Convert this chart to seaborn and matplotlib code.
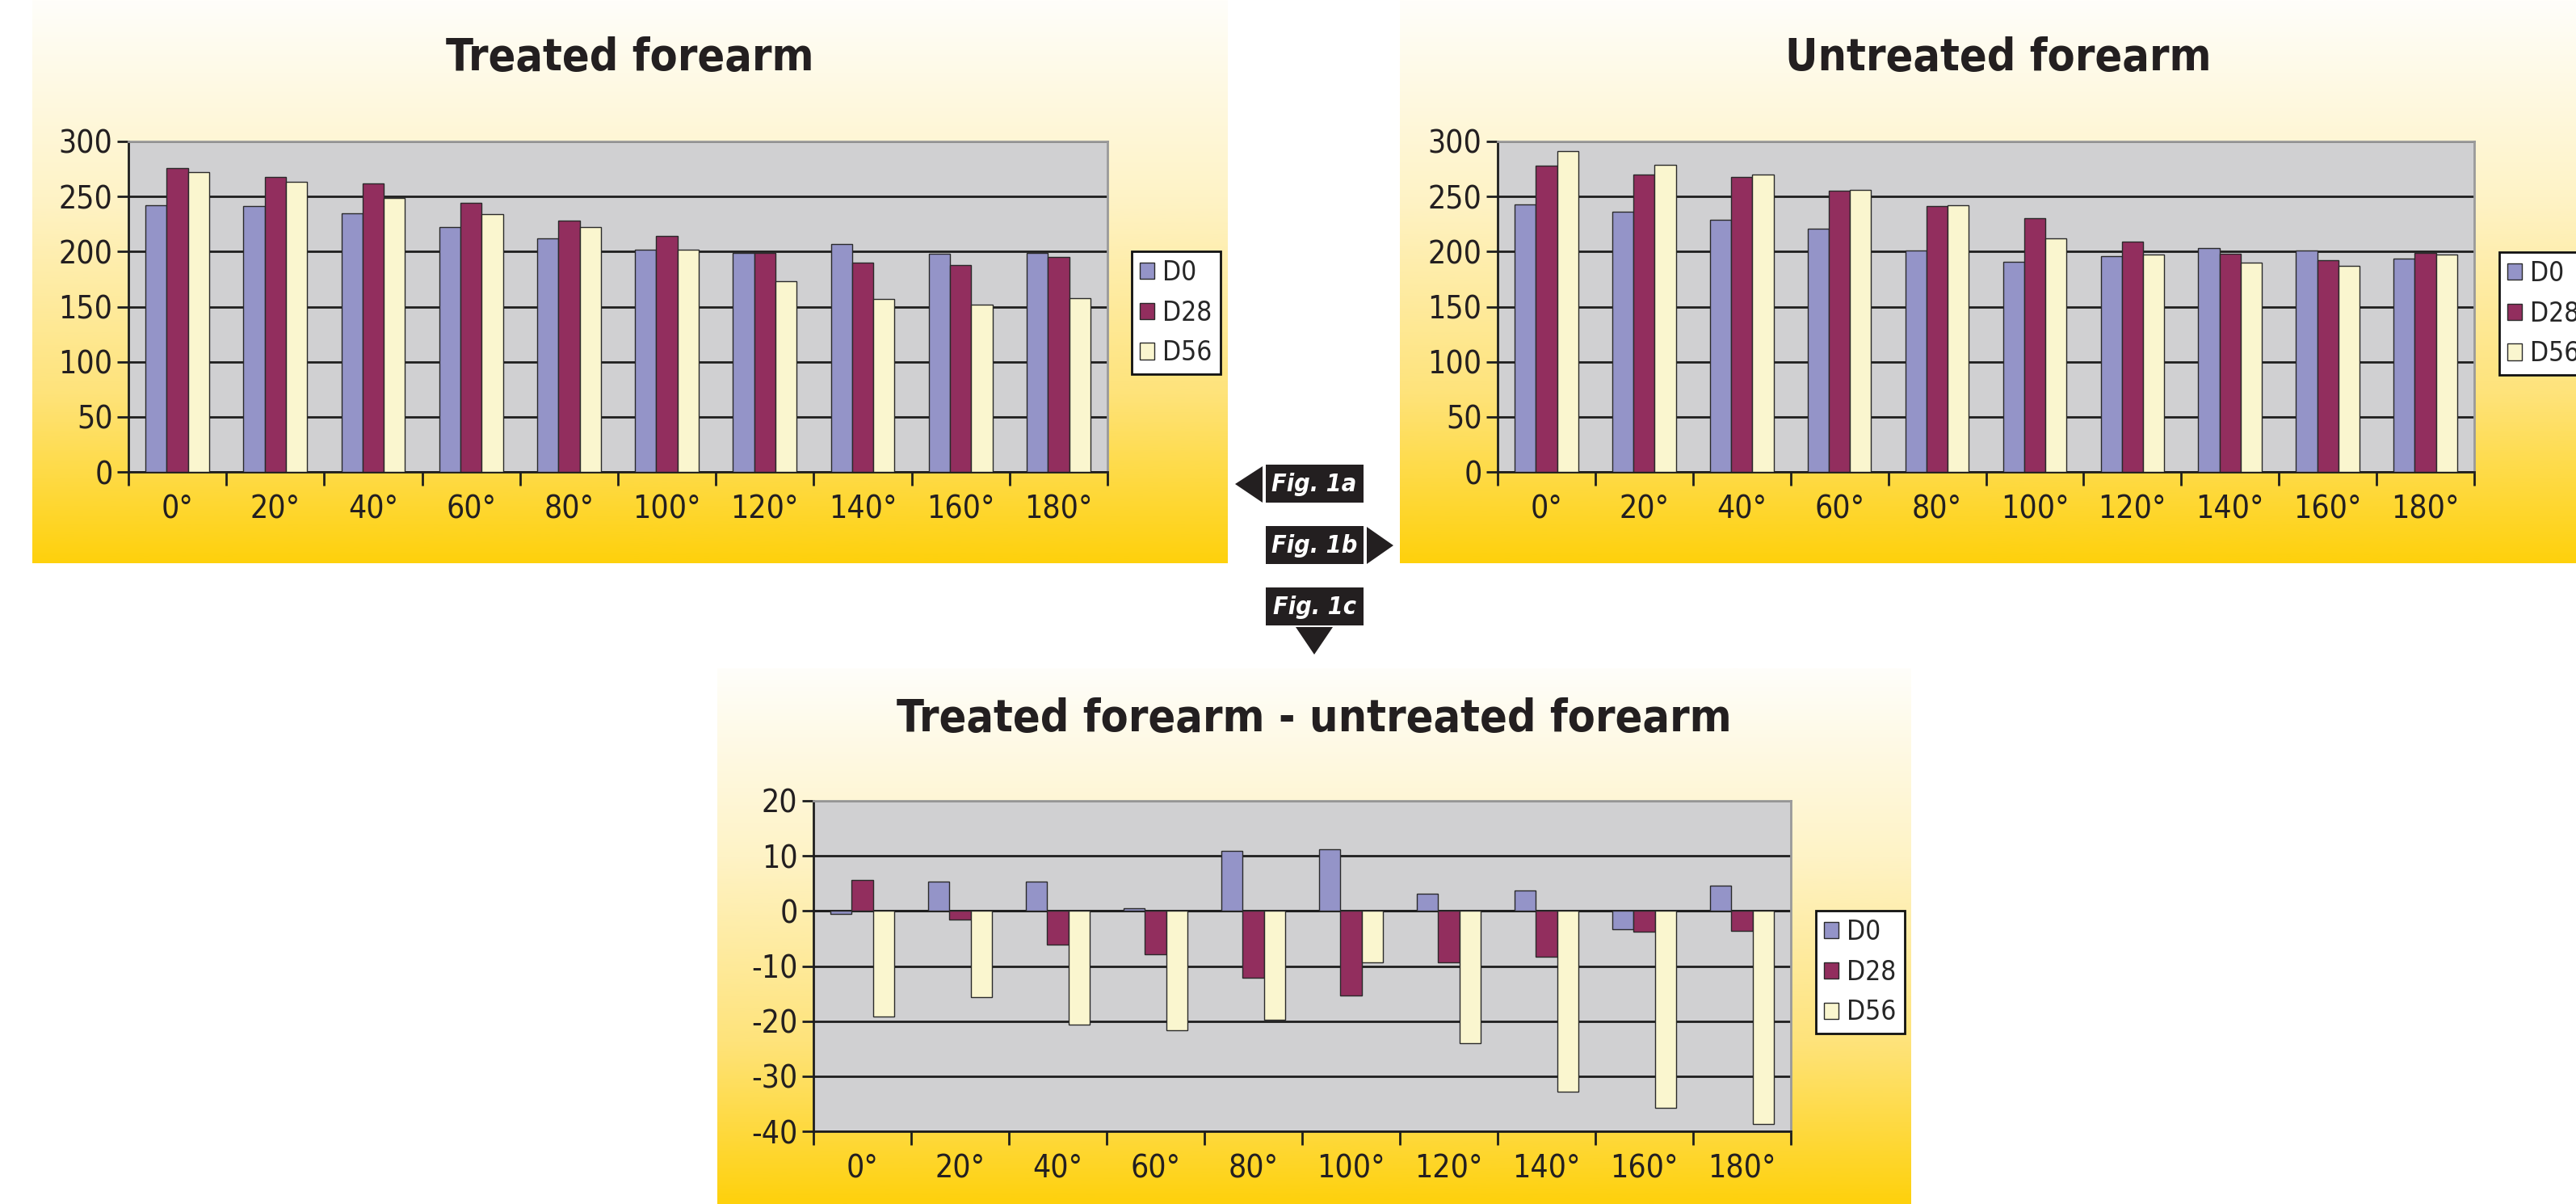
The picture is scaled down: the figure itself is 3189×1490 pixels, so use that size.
import numpy as np
import pandas as pd
import matplotlib
matplotlib.use("Agg")
import matplotlib.pyplot as plt
import seaborn as sns
from matplotlib import font_manager
from matplotlib.colors import LinearSegmentedColormap
from matplotlib.patches import Rectangle, Polygon

# ---------------- data ----------------
angles = ["0°", "20°", "40°", "60°", "80°", "100°", "120°", "140°", "160°", "180°"]
series = ["D0", "D28", "D56"]

treated_d0 = [242, 241, 235, 222, 212, 202, 199, 207, 198, 199]
treated_d28 = [276, 268, 262, 244, 228, 214, 199, 190, 188, 195]
treated_d56 = [272, 263, 249, 234, 222, 202, 173, 157, 152, 158]

untreated_d0 = [243, 236, 229, 221, 201, 191, 196, 203, 201, 194]
untreated_d28 = [278, 270, 268, 255, 241, 230, 209, 198, 192, 199]
untreated_d56 = [291, 279, 270, 256, 242, 212, 197, 190, 187, 197]

diff_d0 = [-0.5, 5.4, 5.4, 0.5, 10.9, 11.2, 3.1, 3.7, -3.3, 4.6]
diff_d28 = [5.6, -1.5, -6.1, -7.9, -12.2, -15.4, -9.3, -8.3, -3.7, -3.6]
diff_d56 = [-19.1, -15.6, -20.6, -21.7, -19.8, -9.3, -24.0, -32.8, -35.7, -38.7]

titles = ["Treated forearm", "Untreated forearm", "Treated forearm - untreated forearm"]
fig_labels = ["Fig. 1a", "Fig. 1b", "Fig. 1c"]

colors = ["#9494C8", "#922E5E", "#FAF6CF"]

# ---------------- fonts ----------------
sns.set_theme(style="white")
available = {f.name for f in font_manager.fontManager.ttflist}
if "Liberation Sans Narrow" in available:
    FAM = ["Liberation Sans Narrow", "DejaVu Sans"]
    STRETCH = "normal"
else:
    FAM = ["DejaVu Sans"]
    STRETCH = "condensed"
plt.rcParams["font.family"] = FAM
plt.rcParams["font.stretch"] = STRETCH
TXT = "#231F20"

W, H = 3189, 1490
DPI = 100
fig = plt.figure(figsize=(W / DPI, H / DPI), dpi=DPI)
fig.patch.set_facecolor("white")

grad_cmap = LinearSegmentedColormap.from_list(
    "g", [(0.0, "#FFFEFA"), (0.35, "#FEF3C6"), (0.7, "#FEE37A"), (1.0, "#FED10C")])


def fig_rect(x0, y0, x1, y1):
    return [x0 / W, 1 - y1 / H, (x1 - x0) / W, (y1 - y0) / H]


def background(x0, y0, x1, y1):
    bg = fig.add_axes(fig_rect(x0, y0, x1, y1), zorder=0)
    grad = np.linspace(0, 1, 256).reshape(-1, 1)
    bg.imshow(grad, aspect="auto", cmap=grad_cmap, extent=[0, 1, 0, 1], origin="upper")
    bg.axis("off")


def panel(rect, d0, d28, d56, ylim, yticks, title, title_xy, leg_xy):
    df = pd.DataFrame({
        "angle": angles * 3,
        "series": [s for s in series for _ in angles],
        "value": list(d0) + list(d28) + list(d56),
    })
    ax = fig.add_axes(fig_rect(*rect), zorder=2)
    ax.set_facecolor("#D0D0D2")
    sns.barplot(data=df, x="angle", y="value", hue="series", order=angles,
                hue_order=series, palette=colors, width=0.65, ax=ax,
                edgecolor="#2A2A2A", linewidth=1.0, saturation=1, errorbar=None,
                zorder=3)
    ax.set_xlim(-0.5, len(angles) - 0.5)
    ax.set_ylim(*ylim)
    ax.set_yticks(yticks)
    ax.set_yticklabels([f"{v:g}" for v in yticks], fontsize=28, color=TXT)
    ax.yaxis.grid(True, color="#1E1E1E", linewidth=2.0, zorder=1)
    ax.xaxis.grid(False)
    ax.set_axisbelow(True)
    # ticks at category boundaries, labels at centres
    ax.set_xticks(np.arange(-0.5, len(angles)), labels=[""] * (len(angles) + 1))
    ax.set_xticks(np.arange(len(angles)), labels=angles, minor=True)
    ax.tick_params(axis="x", which="major", direction="out", length=12, width=2,
                   color="#1E1E1E", bottom=True)
    ax.tick_params(axis="x", which="minor", length=0, labelsize=28, labelcolor=TXT, pad=20)
    ax.tick_params(axis="y", direction="out", length=10, width=2, color="#1E1E1E", left=True,
                   pad=4)
    ax.set_xlabel("")
    ax.set_ylabel("")
    for s in ("left", "bottom"):
        ax.spines[s].set_color("#1E1E1E")
        ax.spines[s].set_linewidth(2.0)
    for s in ("top", "right"):
        ax.spines[s].set_color("#9A9A9A")
        ax.spines[s].set_linewidth(2.0)
    if ylim[0] < 0:
        ax.axhline(0, color="#1E1E1E", linewidth=2.2, zorder=2)
    handles, labels = ax.get_legend_handles_labels()
    ax.legend(handles, labels, loc="upper left", bbox_to_anchor=(leg_xy[0] / W, 1 - leg_xy[1] / H),
              bbox_transform=fig.transFigure, fontsize=24, frameon=True, fancybox=False,
              edgecolor="#111111", facecolor="white", framealpha=1, handlelength=0.55,
              handleheight=0.55, handletextpad=0.3, labelspacing=0.5, borderpad=0.3,
              borderaxespad=0)
    ax.get_legend().get_frame().set_linewidth(2.0)
    fig.text(title_xy[0] / W, 1 - title_xy[1] / H, title, ha="center", va="center",
             fontsize=40, fontweight="bold", color=TXT, zorder=5)
    return ax


background(40, 0, 1520, 697)
background(1733, 0, W, 697)
background(888, 827, 2366, H)

panel((159, 175, 1371, 584), treated_d0, treated_d28, treated_d56, (0, 300),
      [0, 50, 100, 150, 200, 250, 300], titles[0], (780, 72), (1401, 311))
panel((1854, 175, 3063, 584), untreated_d0, untreated_d28, untreated_d56, (0, 300),
      [0, 50, 100, 150, 200, 250, 300], titles[1], (2474, 72), (3094, 312))
panel((1007, 991, 2217, 1400), diff_d0, diff_d28, diff_d56, (-40, 20),
      [-40, -30, -20, -10, 0, 10, 20], titles[2], (1627, 890), (2248, 1127))

# ---------------- figure labels overlay ----------------
ov = fig.add_axes([0, 0, 1, 1], zorder=10)
ov.set_xlim(0, W)
ov.set_ylim(H, 0)
ov.axis("off")
ov.patch.set_alpha(0)
box_y = [575, 651, 727]
tris = [
    [(1529, 599), (1563, 577), (1563, 622)],
    [(1692, 652), (1692, 698), (1725, 675)],
    [(1604, 776), (1650, 776), (1627, 810)],
]
for lab, y0, tri in zip(fig_labels, box_y, tris):
    ov.add_patch(Rectangle((1567, y0), 121, 47, facecolor=TXT, edgecolor="none"))
    ov.add_patch(Polygon(tri, closed=True, facecolor=TXT, edgecolor="none"))
    ov.text(1627, y0 + 24, lab, ha="center", va="center", color="white", fontsize=22,
            fontweight="bold", fontstyle="italic")

fig.savefig("out.png", dpi=DPI)
